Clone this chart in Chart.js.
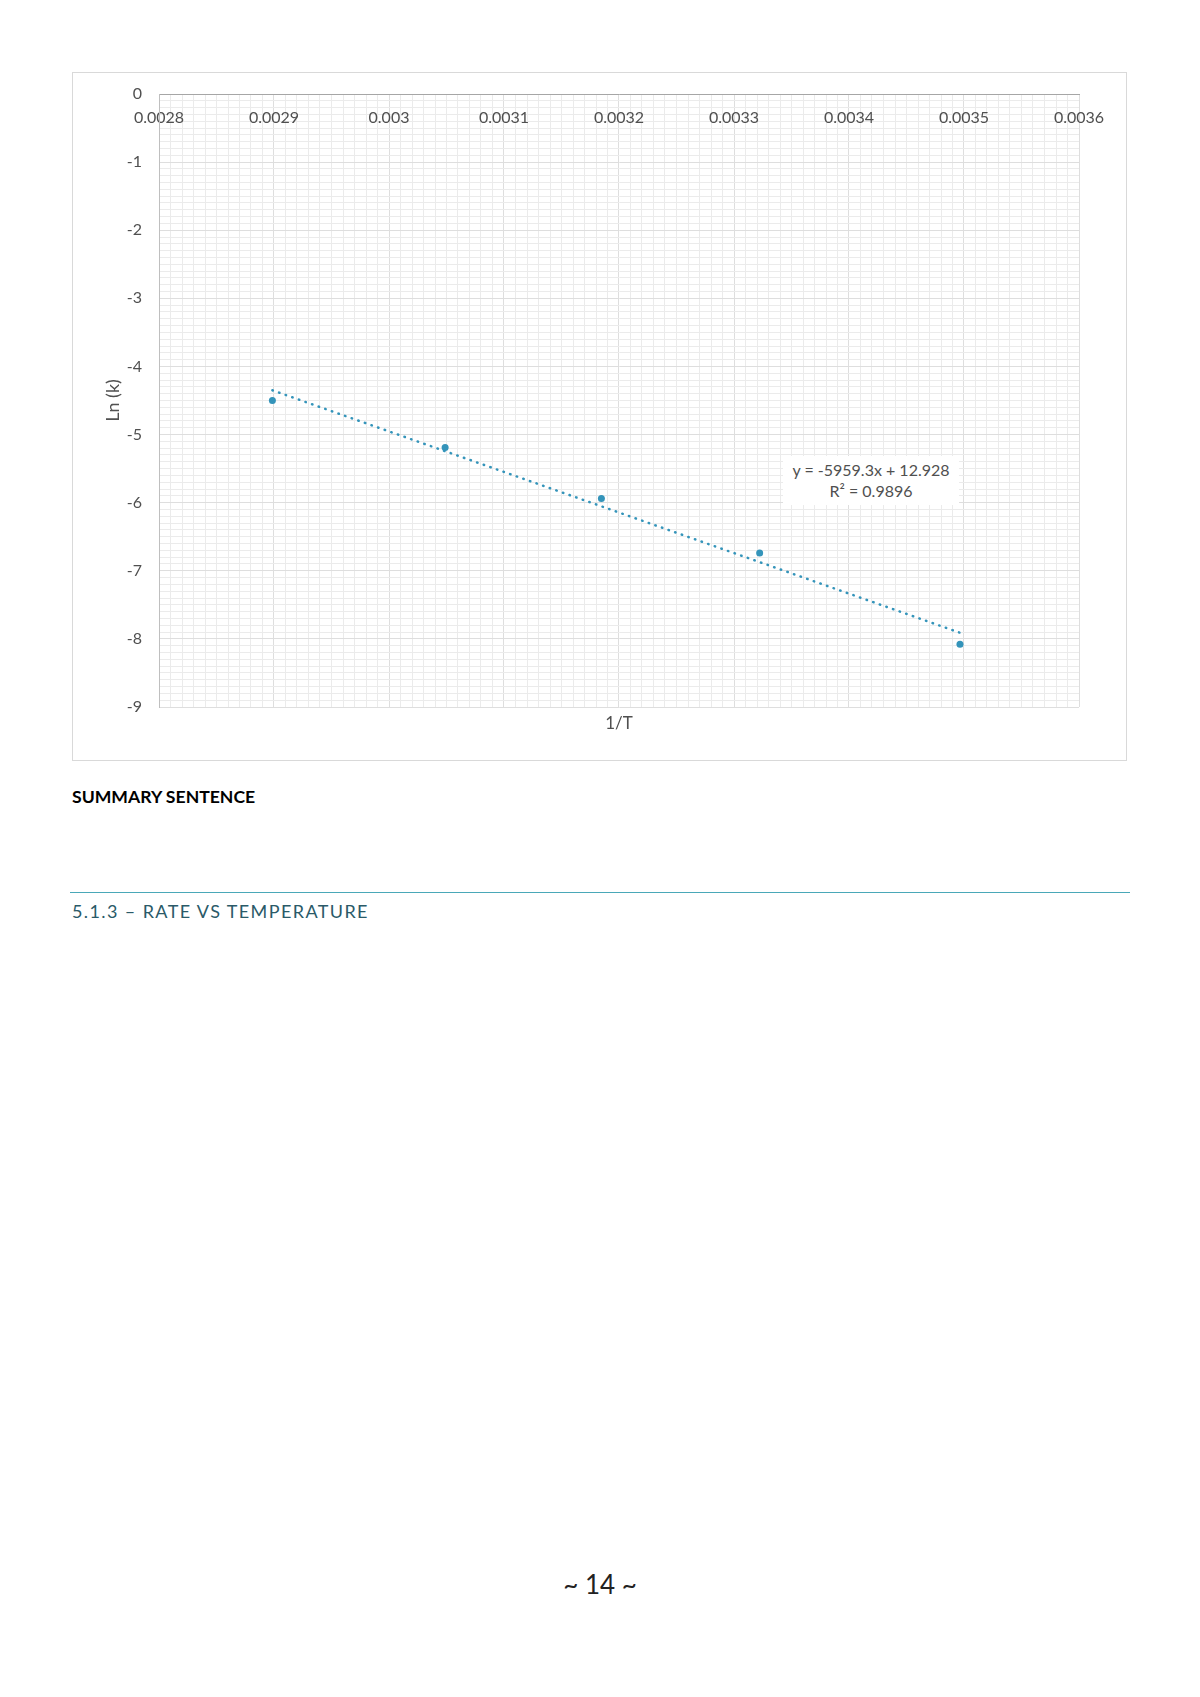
<!DOCTYPE html>
<html>
<head>
<meta charset="utf-8">
<script src="https://cdn.jsdelivr.net/npm/chart.js@4"></script>
<style>
    body { margin: 0; background: #fff; width: 1200px; height: 1697px; position: relative; font-family: Lato, "Open Sans", sans-serif; }
    #frame { position: absolute; left: 72px; top: 72px; width: 1053px; height: 687px; border: 1px solid #d9d9d9; }
    #frame canvas { display: block; }
    #eq { position: absolute; left: 783px; top: 456px; width: 176px; height: 49px; background: #fff;
          color: #505050; font-size: 16px; line-height: 21px; text-align: center; padding-top: 3px; box-sizing: border-box; }
    #summary { position: absolute; left: 72px; top: 786px; font-weight: bold; font-size: 17.6px; color: #000; }
    #rule { position: absolute; left: 70px; top: 892px; width: 1060px; height: 0; border-top: 1.5px solid #4aa8b8; }
    #heading { position: absolute; left: 72px; top: 900px; font-size: 18px; letter-spacing: 1.4px; color: #2a5a68; }
    #pageno { position: absolute; left: 0; width: 1200px; top: 1568px; text-align: center; font-size: 26px; color: #222; }
</style>
</head>
<body>
<div id="frame"><canvas id="chart" width="1053" height="687"></canvas></div>
<div id="eq">y = -5959.3x + 12.928<br>R² = 0.9896</div>
<div id="summary">SUMMARY SENTENCE</div>
<div id="rule"></div>
<div id="heading">5.1.3 – RATE VS TEMPERATURE</div>
<div id="pageno">~ 14 ~</div>

<script>
// Measured points (1/T, ln k)
const invT = [0.0028986, 0.0030488, 0.0031847, 0.0033223, 0.0034965];
const lnK = [-4.50, -5.19, -5.94, -6.74, -8.08];

// Linear trendline ends
const trendX = [0.0028986, 0.0034965];
const trendY = [-4.35, -7.91];

// Axis ranges
const xMin = 0.0028, xMax = 0.0036, xMajor = 0.0001, xMinor = 0.00001;
const yMin = -9, yMax = 0, yMajor = 1, yMinor = 0.1;

const blue = '#3494BA';
const textGray = '#505050';
const fontFam = 'Lato, "Open Sans", sans-serif';

function isMajor(v, step) {
    const r = v / step;
    return Math.abs(r - Math.round(r)) < 1e-4;
}

const ctx = document.getElementById('chart');

new Chart(ctx, {
    type: 'scatter',
    data: {
        datasets: [
            {
                label: 'Ln (k)',
                data: invT.map((x, i) => ({ x: x, y: lnK[i] })),
                backgroundColor: blue,
                borderColor: blue,
                pointRadius: 3.5,
                pointBorderWidth: 0
            },
            {
                label: 'Trend',
                data: trendX.map((x, i) => ({ x: x, y: trendY[i] })),
                showLine: true,
                borderColor: blue,
                borderWidth: 2.5,
                borderDash: [0.5, 6.5],
                borderCapStyle: 'round',
                pointRadius: 0
            }
        ]
    },
    options: {
        responsive: false,
        animation: false,
        events: [],
        layout: { padding: { top: 21, right: 47, left: 0, bottom: 0 } },
        plugins: {
            legend: { display: false },
            tooltip: { enabled: false }
        },
        scales: {
            x: {
                type: 'linear',
                position: 'bottom',
                min: xMin,
                max: xMax,
                afterFit: s => { s.height = 53; },
                ticks: { display: false, stepSize: xMinor },
                grid: {
                    drawTicks: false,
                    color: c => isMajor(c.tick.value - xMin, xMajor) ? '#dedede' : '#ebebeb',
                    lineWidth: 1
                },
                border: { display: false },
                title: {
                    display: true,
                    text: '1/T',
                    color: textGray,
                    font: { family: fontFam, size: 17 },
                    padding: { top: 0, bottom: 26 }
                }
            },
            x2: {
                type: 'linear',
                position: { y: 0 },
                min: xMin,
                max: xMax,
                ticks: {
                    stepSize: xMajor,
                    autoSkip: false,
                    maxRotation: 0,
                    padding: 14,
                    color: textGray,
                    font: { family: fontFam, size: 16 },
                    callback: v => String(Number(v.toFixed(5)))
                },
                grid: { display: false, drawTicks: false },
                border: { display: true, color: '#a6a6a6', width: 1 }
            },
            y: {
                type: 'linear',
                min: yMin,
                max: yMax,
                afterFit: s => {
                    s.width = 86;
                    // keep the tick padding from pushing the plot top down
                    s.paddingTop = 0;
                    s.paddingBottom = 0;
                },
                ticks: {
                    stepSize: yMinor,
                    autoSkip: false,
                    padding: 17,
                    color: textGray,
                    font: { family: fontFam, size: 16 },
                    callback: v => isMajor(v, yMajor) ? String(Math.round(v)) : ''
                },
                grid: {
                    drawTicks: false,
                    color: c => isMajor(c.tick.value, yMajor) ? '#dedede' : '#ebebeb',
                    lineWidth: 1
                },
                border: { display: true, color: '#bfbfbf', width: 1 },
                title: {
                    display: true,
                    text: 'Ln (k)',
                    color: textGray,
                    font: { family: fontFam, size: 18 },
                    padding: { top: 29, bottom: 0 }
                }
            }
        }
    }
});
</script>
</body>
</html>
